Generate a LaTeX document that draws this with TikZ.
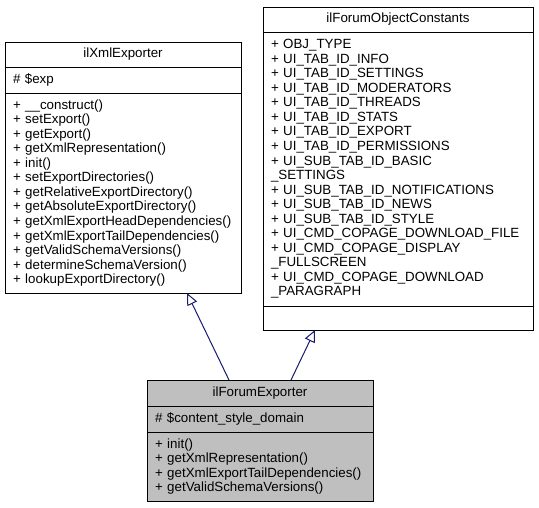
\documentclass[tikz,border=0pt]{standalone}
\usepackage{fontspec}
\setmainfont{Liberation Sans}
\usetikzlibrary{arrows.meta,positioning}
\definecolor{edgeblue}{HTML}{191970}
\definecolor{hilite}{HTML}{BFBFBF}
\hyphenpenalty=10000
\hbadness=10000

\begin{document}
\begin{tikzpicture}[x=0.75pt,y=-0.75pt,
   font=\fontsize{10}{10.9}\selectfont,
   cell/.style={draw=black,line width=0.75pt,outer sep=0pt,
                inner xsep=6pt,inner ysep=0pt,align=left},
   head/.style={cell,align=center},
   generalization/.style={draw=edgeblue,line width=0.75pt,
                -{Triangle[open,length=9pt,width=8pt]}}]
  \useasboundingbox (0,0) rectangle (539,507);

  % base class
  \node[head,anchor=north west,text width=165pt,minimum height=18.75pt] (xmlHead) at (5,42) {ilXmlExporter};
  \node[cell,below=0pt of xmlHead,text width=165pt,minimum height=19.5pt] (xmlAttr) {\# \$exp};
  \node[cell,below=0pt of xmlAttr,text width=165pt,minimum height=150pt] (xmlOps) {%
    + \_\_construct()\\
    + setExport()\\
    + getExport()\\
    + getXmlRepresentation()\\
    + init()\\
    + setExportDirectories()\\
    + getRelativeExportDirectory()\\
    + getAbsoluteExportDirectory()\\
    + getXmlExportHeadDependencies()\\
    + getXmlExportTailDependencies()\\
    + getValidSchemaVersions()\\
    + determineSchemaVersion()\\
    + lookupExportDirectory()};

  % constants interface
  \node[head,anchor=north west,text width=190.5pt,minimum height=18.75pt] (constHead) at (263,7) {ilForumObjectConstants};
  \node[cell,below=0pt of constHead,text width=190.5pt,minimum height=205.5pt] (constAttr) {%
    + OBJ\_TYPE\\
    + UI\_TAB\_ID\_INFO\\
    + UI\_TAB\_ID\_SETTINGS\\
    + UI\_TAB\_ID\_MODERATORS\\
    + UI\_TAB\_ID\_THREADS\\
    + UI\_TAB\_ID\_STATS\\
    + UI\_TAB\_ID\_EXPORT\\
    + UI\_TAB\_ID\_PERMISSIONS\\
    + UI\_SUB\_TAB\_ID\_BASIC\\
    \_SETTINGS\\
    + UI\_SUB\_TAB\_ID\_NOTIFICATIONS\\
    + UI\_SUB\_TAB\_ID\_NEWS\\
    + UI\_SUB\_TAB\_ID\_STYLE\\
    + UI\_CMD\_COPAGE\_DOWNLOAD\_FILE\\
    + UI\_CMD\_COPAGE\_DISPLAY\\
    \_FULLSCREEN\\
    + UI\_CMD\_COPAGE\_DOWNLOAD\\
    \_PARAGRAPH};
  \node[cell,below=0pt of constAttr,text width=190.5pt,minimum height=18pt] (constOps) {};

  % derived class
  \node[head,fill=hilite,anchor=north west,text width=157.5pt,minimum height=19.5pt] (fexHead) at (147,380) {ilForumExporter};
  \node[cell,fill=hilite,below=0pt of fexHead,text width=157.5pt,minimum height=19.5pt] (fexAttr) {\# \$content\_style\_domain};
  \node[cell,fill=hilite,below=0pt of fexAttr,text width=157.5pt,minimum height=51.75pt] (fexOps) {%
    + init()\\
    + getXmlRepresentation()\\
    + getXmlExportTailDependencies()\\
    + getValidSchemaVersions()};

  \draw[generalization] ([xshift=-23.25pt]fexHead.north) -- ([xshift=48pt]xmlOps.south);
  \draw[generalization] ([xshift=23.25pt]fexHead.north) -- ([xshift=-62.25pt]constOps.south);
\end{tikzpicture}
\end{document}
